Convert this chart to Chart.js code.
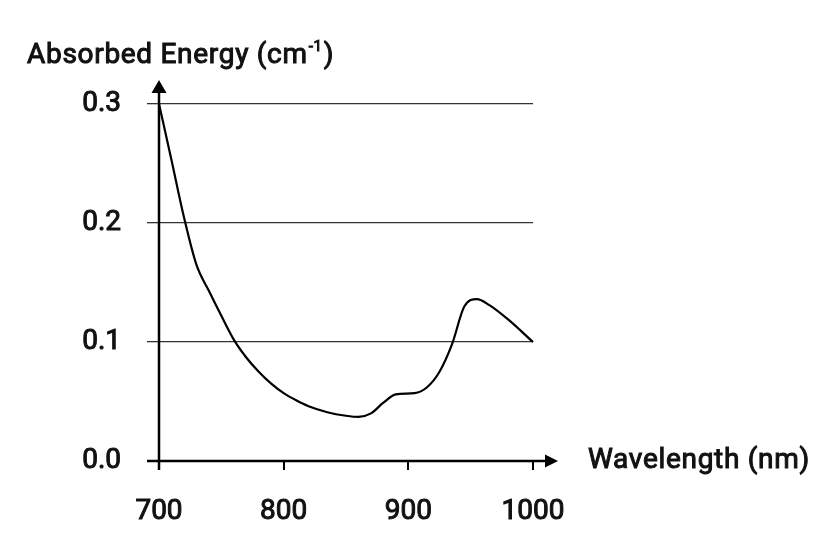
<!DOCTYPE html>
<html>
<head>
<meta charset="utf-8">
<script src="https://cdn.jsdelivr.net/npm/chart.js@4/dist/chart.umd.min.js"></script>
<style>
  html, body { margin: 0; padding: 0; background: #fff; }
  #wrap { width: 833px; height: 555px; }
</style>
</head>
<body>
<div id="wrap"><canvas id="myChart" width="833" height="555"></canvas></div>
<script>
// valeurs
const wavelengths = [700, 710, 720, 730, 740, 750, 760, 770, 780, 790, 800, 810, 820, 835, 850, 860, 870, 880, 890, 905, 915, 925, 935, 945, 955, 965, 980, 1000];
const absorbed = [0.300, 0.253, 0.205, 0.165, 0.143, 0.122, 0.102, 0.087, 0.075, 0.065, 0.057, 0.051, 0.046, 0.041, 0.038, 0.037, 0.040, 0.049, 0.056, 0.057, 0.062, 0.075, 0.098, 0.130, 0.136, 0.131, 0.119, 0.100];
const xTicks = [700, 800, 900, 1000];
const yTicks = [0.0, 0.1, 0.2, 0.3];
const yTitle = 'Absorbed Energy (cm';
const yTitleSup = '-1';
const xTitle = 'Wavelength (nm)';

const FONT = 'Roboto, "Liberation Sans", sans-serif';
const FSIZE = 28;
const STROKE = 1.0; // épaissit un peu le Roboto regular

function strokeFill(ctx, txt, x, y) {
  ctx.strokeText(txt, x, y);
  ctx.fillText(txt, x, y);
}

// axes avec flèches + titres
const axesPlugin = {
  id: 'axesArrows',
  afterDraw(chart) {
    const ctx = chart.ctx;
    const x = chart.scales.x, y = chart.scales.y;
    const x0 = x.getPixelForValue(700);
    const y0 = y.getPixelForValue(0);
    ctx.save();
    ctx.strokeStyle = '#000';
    ctx.fillStyle = '#000';
    ctx.lineWidth = 2.5;
    // axe y
    ctx.beginPath();
    ctx.moveTo(x0, y0 + 9);
    ctx.lineTo(x0, 90);
    ctx.stroke();
    ctx.beginPath();
    ctx.moveTo(x0, 80);
    ctx.lineTo(x0 - 7.5, 93);
    ctx.lineTo(x0 + 7.5, 93);
    ctx.closePath();
    ctx.fill();
    // axe x
    ctx.beginPath();
    ctx.moveTo(x0 - 12, y0);
    ctx.lineTo(548, y0);
    ctx.stroke();
    ctx.beginPath();
    ctx.moveTo(558, y0);
    ctx.lineTo(545, y0 - 6.5);
    ctx.lineTo(545, y0 + 6.5);
    ctx.closePath();
    ctx.fill();

    // titres
    ctx.fillStyle = '#111';
    ctx.strokeStyle = '#111';
    ctx.lineWidth = STROKE;
    ctx.textBaseline = 'middle';
    ctx.textAlign = 'left';
    ctx.letterSpacing = '0.7px';
    ctx.font = FSIZE + 'px ' + FONT;
    strokeFill(ctx, xTitle, 588, y0);
    strokeFill(ctx, yTitle, 27, 56);
    let w = ctx.measureText(yTitle).width;
    ctx.font = '15px ' + FONT;
    strokeFill(ctx, yTitleSup, 27 + w + 1, 47);
    let w2 = ctx.measureText(yTitleSup).width;
    ctx.font = FSIZE + 'px ' + FONT;
    strokeFill(ctx, ')', 27 + w + w2 + 2, 56);
    ctx.restore();
  }
};

const tickFont = { family: FONT, size: FSIZE, weight: 'normal' };

const ctx = document.getElementById('myChart').getContext('2d');
const myChart = new Chart(ctx, {
  type: 'line',
  data: {
    datasets: [{
      data: wavelengths.map((w, i) => ({ x: w, y: absorbed[i] })),
      borderColor: '#000',
      borderWidth: 2.2,
      pointRadius: 0,
      fill: false,
      cubicInterpolationMode: 'monotone',
      clip: false
    }]
  },
  options: {
    responsive: false,
    animation: false,
    layout: { padding: { left: 0, top: 104, right: 300, bottom: 0 } },
    plugins: { legend: { display: false }, tooltip: { enabled: false } },
    scales: {
      x: {
        type: 'linear',
        min: 700,
        max: 1000,
        afterFit(s) { s.height = 94; },
        afterBuildTicks(s) { s.ticks = xTicks.map(v => ({ value: v })); },
        border: { display: false },
        grid: { drawOnChartArea: false, tickLength: 9, color: '#000', lineWidth: 2 },
        ticks: {
          padding: 25,
          color: '#111',
          textStrokeColor: '#111',
          textStrokeWidth: STROKE,
          font: tickFont,
          callback: v => String(v)
        }
      },
      y: {
        min: 0,
        max: 0.3,
        afterFit(s) { s.width = 159; },
        afterBuildTicks(s) { s.ticks = yTicks.map(v => ({ value: v })); },
        border: { display: false },
        grid: { tickLength: 12, color: '#333', lineWidth: 1.3 },
        ticks: {
          padding: 26,
          color: '#111',
          textStrokeColor: '#111',
          textStrokeWidth: STROKE,
          font: tickFont,
          callback: v => v.toFixed(1)
        }
      }
    }
  },
  plugins: [axesPlugin]
});
</script>
</body>
</html>
